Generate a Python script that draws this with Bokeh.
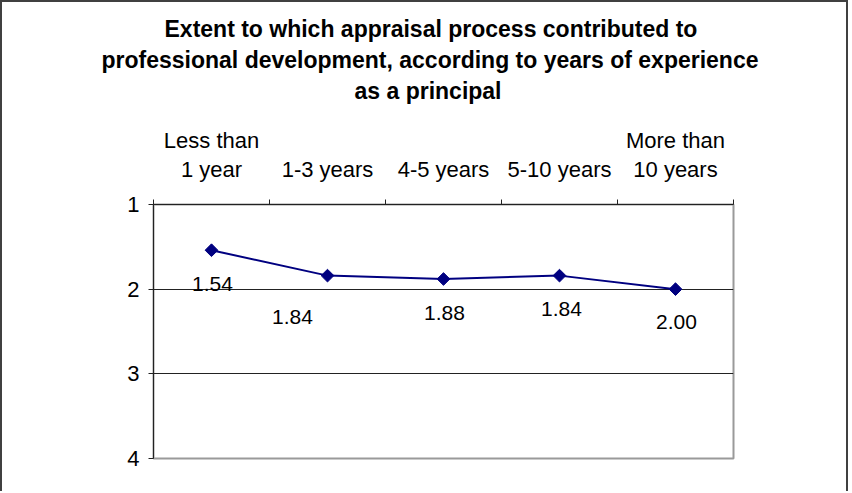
import numpy as np
from bokeh.plotting import figure
from bokeh.models import (Range1d, LinearAxis, FixedTicker, Title,
                          ColumnDataSource)
from bokeh.embed import file_html
from bokeh.resources import INLINE
from bokeh.core.properties import value

# ---------------- data ----------------
title_lines = ["Extent to which appraisal process contributed to",
               "professional development, according to years of experience",
               "as a principal"]
categories = ["Less than 1 year", "1-3 years", "4-5 years", "5-10 years",
              "More than 10 years"]
cat_line1 = ["Less than", "", "", "", "More than"]
cat_line2 = ["1 year", "1-3 years", "4-5 years", "5-10 years", "10 years"]
values = [1.54, 1.84, 1.88, 1.84, 2.00]
value_labels = ["1.54", "1.84", "1.88", "1.84", "2.00"]
y_ticks = [1, 2, 3, 4]
# label placement offsets (pixels) -- style only
label_dx = [1, -35, 1, 2, 1]
label_dy = [34, 41, 34, 33, 33]
# horizontal shift of each title line from the frame's left edge (style)
title_offsets = [11, -52, 201]
title_standoffs = [3, 3, 3]

n = len(categories)
centers = [i + 0.5 for i in range(n)]        # category slot centres
boundaries = list(range(n + 1))              # category slot edges

W, H = 848, 491
BL, BR, BT, BB = 151, 117, 202, 35           # frame margins
FONT = "Liberation Sans"
DARK = "#222222"

p = figure(width=W, height=H,
           x_range=Range1d(0, n),
           y_range=Range1d(4, 1),
           output_backend="svg", toolbar_location=None,
           x_axis_location=None, y_axis_location="left",
           min_border_left=BL, min_border_right=BR,
           min_border_top=BT, min_border_bottom=BB)
p.styles = {"border-left": "2px solid #404040",
            "border-top": "2px solid #404040",
            "border-right": "2px solid #404040"}
p.background_fill_color = "white"
p.border_fill_color = "white"
p.outline_line_color = "#9a9a9a"
p.outline_line_width = 2

# top axis: tick marks at category boundaries
tick_axis = LinearAxis(ticker=FixedTicker(ticks=boundaries, minor_ticks=[]),
                       major_label_overrides={b: "" for b in boundaries},
                       major_label_text_font_size="0px",
                       major_label_standoff=0,
                       major_tick_in=0, major_tick_out=5,
                       axis_line_color=DARK, major_tick_line_color=DARK,
                       minor_tick_line_color=None)
p.add_layout(tick_axis, "above")

def label_axis(lines, standoff):
    return LinearAxis(ticker=FixedTicker(ticks=centers, minor_ticks=[]),
                      major_label_overrides=dict(zip(centers, lines)),
                      major_tick_line_color=None, axis_line_color=None,
                      minor_tick_line_color=None,
                      major_tick_in=0, major_tick_out=0,
                      major_label_standoff=standoff,
                      major_label_text_font=FONT,
                      major_label_text_font_size="22px",
                      major_label_text_color="black")

p.add_layout(label_axis(cat_line2, 18), "above")
p.add_layout(label_axis(cat_line1, 1), "above")

# blank spacer panel between the category labels and the title block
p.add_layout(Title(text=" ", standoff=16, text_font_size="1px",
                   text_color="white"), "above")

# title: three stacked title panels, innermost (last line) first
for line, off, so in reversed(list(zip(title_lines, title_offsets,
                                       title_standoffs))):
    p.add_layout(Title(text=line, align="left", offset=off, standoff=so,
                       text_font=FONT, text_font_style="bold",
                       text_font_size="23px", text_color="black"), "above")

# y axis
ya = p.yaxis[0]
ya.ticker = FixedTicker(ticks=y_ticks, minor_ticks=[])
ya.major_tick_in = 0
ya.major_tick_out = 5
ya.major_label_standoff = 9
ya.axis_line_color = DARK
ya.major_tick_line_color = DARK
ya.minor_tick_line_color = None
ya.major_label_text_font = FONT
ya.major_label_text_font_size = "22px"
ya.major_label_text_color = "black"

p.xgrid.visible = False
p.ygrid.ticker = FixedTicker(ticks=[2, 3])
p.ygrid.grid_line_color = DARK
p.ygrid.grid_line_width = 1

src = ColumnDataSource(dict(x=centers, val=values, lbl=value_labels,
                            dx=label_dx, dy=label_dy))
p.line(x="x", y="val", source=src, line_color="#000080", line_width=2)
p.scatter(x="x", y="val", source=src, marker="square", angle=np.pi / 4,
          size=9, fill_color="#000080", line_color="#000080")
p.text(x="x", y="val", text="lbl", source=src, x_offset="dx", y_offset="dy",
       text_align="center", text_baseline="middle",
       text_font=value(FONT), text_font_size="21px", text_color="black")

open("out.html", "w").write(file_html(p, INLINE))
